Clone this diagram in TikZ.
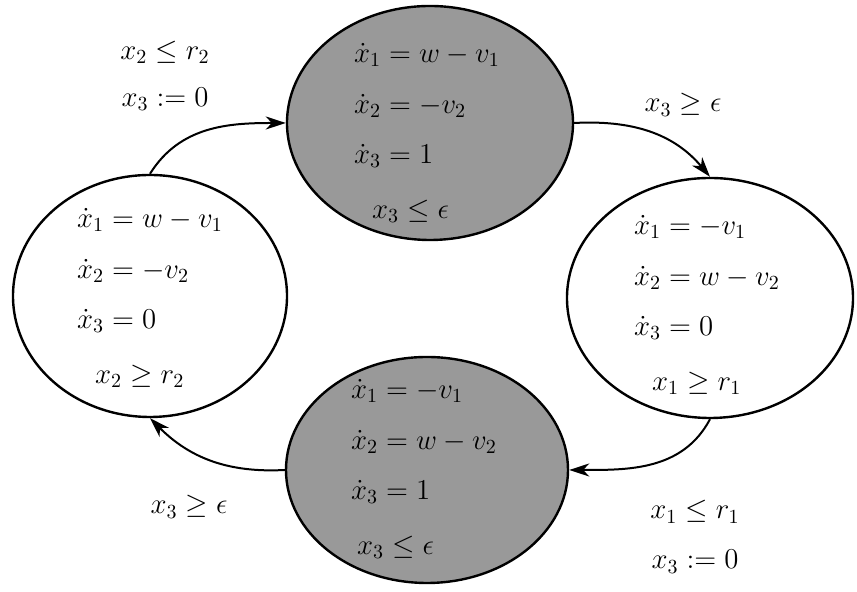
\documentclass[tikz,border=0pt]{standalone}
\usepackage{amsmath,amssymb}
\usepackage{tikz}
\usetikzlibrary{arrows.meta,shapes.geometric}

\begin{document}
\begin{tikzpicture}[
  x=0.5pt, y=0.5pt,
  mode/.style={draw, ellipse, line width=1.2pt, minimum width=143pt, minimum height=117pt, inner sep=0pt},
  Wn/.style={mode, fill=white},
  Gn/.style={mode, fill=black!40},
  eqs/.style={font=\fontsize{14.4}{17}\selectfont, align=left, inner sep=0pt},
  lbl/.style={font=\fontsize{14.4}{17}\selectfont, align=center, inner sep=0pt},
  arr/.style={-{Stealth[length=10pt, width=6.5pt, inset=3pt]}, line width=1pt}
]
\useasboundingbox (0,0) rectangle (857,592);

% Modes
\node[Wn, minimum width=137pt, minimum height=121pt] (L) at (150,296) {};
\node[Gn] (T) at (430,469) {};
\node[Wn, minimum height=120pt] (R) at (710,294) {};
\node[Gn, minimum width=141pt, minimum height=113pt] (B) at (427,122) {};

\node[eqs] (Ltxt) at (150,294) {$\dot{x}_1 = w - v_1$\\[8.5pt]
  $\dot{x}_2 = -v_2$\\[8pt]
  $\dot{x}_3 = 0$\\[10.5pt]
  \hspace*{9pt}$x_2 \geq r_2$};
\node[eqs] (Ttxt) at (427,459) {$\dot{x}_1 = w - v_1$\\[8.5pt]
  $\dot{x}_2 = -v_2$\\[8pt]
  $\dot{x}_3 = 1$\\[10.5pt]
  \hspace*{9pt}$x_3 \leq \epsilon$};
\node[eqs] (Rtxt) at (707,287) {$\dot{x}_1 = -v_1$\\[8.5pt]
  $\dot{x}_2 = w - v_2$\\[8pt]
  $\dot{x}_3 = 0$\\[10.5pt]
  \hspace*{9pt}$x_1 \geq r_1$};
\node[eqs] (Btxt) at (424,123) {$\dot{x}_1 = -v_1$\\[8.5pt]
  $\dot{x}_2 = w - v_2$\\[8pt]
  $\dot{x}_3 = 1$\\[10.5pt]
  \hspace*{3pt}$x_3 \leq \epsilon$};

% Switches
\draw[arr] (L.north) to[out=58, in=180] (T.west);
\draw[arr] (T.east) to[out=3, in=130] (R.north);
\draw[arr] (R.south) to[out=-118, in=0] (B.east);
\draw[arr] (B.west) to[out=183, in=-45] (L.south);

\node[lbl] (l1) at (165,516) {$x_2 \leq r_2$\\[6.5pt]$x_3 := 0$};
\node[lbl] (l2) at (683,487) {$x_3 \geq \epsilon$};
\node[lbl] (l3) at (695,55) {$x_1 \leq r_1$\\[8pt]$x_3 := 0$};
\node[lbl] (l4) at (189,85) {$x_3 \geq \epsilon$};

\end{tikzpicture}
\end{document}
